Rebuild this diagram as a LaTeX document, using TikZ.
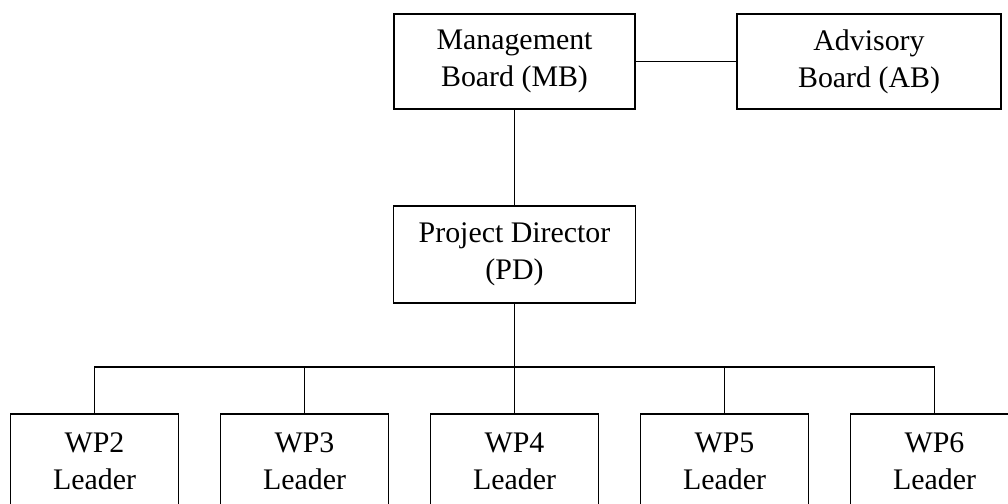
\documentclass[tikz,border=0pt]{standalone}
\usepackage{fontspec}
\setmainfont{Liberation Serif}

\tikzset{
    box/.style={draw, rectangle, line width=1pt, fill=white, align=center,
        font=\fontsize{17}{21}\selectfont, inner sep=0pt},
    link/.style={line width=1pt}
}

\begin{document}
\begin{tikzpicture}
    \useasboundingbox (0,0) rectangle (20.16,10.08);
    \clip (0,0) rectangle (20.16,10.08);

    \node[box, minimum width=4.82cm, minimum height=1.9cm] (mb) at (10.29,8.85) {Management\\Board (MB)};
    \node[box, minimum width=5.28cm, minimum height=1.9cm] (ab) at (17.38,8.85) {Advisory\\Board (AB)};
    \node[box, minimum width=4.84cm, minimum height=1.94cm] (pd) at (10.29,4.99) {Project Director\\(PD)};

    \draw[link] (mb) -- (ab);
    \draw[link] (mb) -- (pd);

    % work package leaders along the bottom row
    \coordinate (bus) at (10.29,2.74);
    \draw[link] (pd) -- (bus);
    \foreach \wp/\x in {2/1.89, 3/6.09, 4/10.29, 5/14.49, 6/18.69} {
        \node[box, minimum width=3.36cm, minimum height=1.9cm] (wp\wp) at (\x,0.85) {WP\wp\\Leader};
        \draw[link] (bus) -| (wp\wp.north);
    }
\end{tikzpicture}
\end{document}
